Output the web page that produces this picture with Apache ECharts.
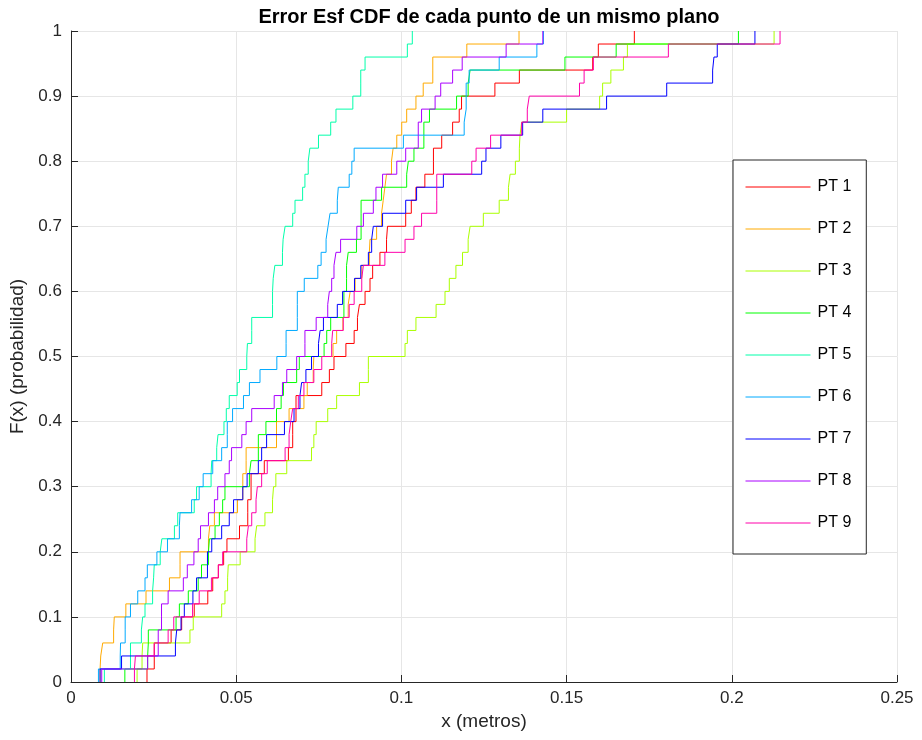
<!DOCTYPE html>
<html>
<head>
<meta charset="utf-8">
<script src="https://cdn.jsdelivr.net/npm/echarts@6/dist/echarts.min.js"></script>
<style>html,body{margin:0;padding:0;background:#fff}#c{width:922px;height:740px}</style>
</head>
<body>
<div id="c"></div>
<script>
var titleText = 'Error Esf CDF de cada punto de un mismo plano';
var xName = 'x (metros)';
var yName = 'F(x) (probabilidad)';
var names = ['PT 1','PT 2','PT 3','PT 4','PT 5','PT 6','PT 7','PT 8','PT 9'];
var colors = ['#FF0000','#FFAA00','#AAFF00','#00FF00','#00FFAA','#00AAFF','#0000FF','#AA00FF','#FF00AA'];
var stepSize = 0.02;

var pt1 = [0.0230,0.0252,0.0252,0.0303,0.0335,0.0373,0.0414,0.0429,0.0446,0.0462,0.0472,0.0510,0.0535,0.0535,0.0545,0.0545,0.0585,0.0658,0.0671,0.0671,0.0681,0.0681,0.0759,0.0782,0.0796,0.0832,0.0857,0.0867,0.0873,0.0890,0.0905,0.0913,0.0935,0.0955,0.0958,0.1013,0.1030,0.1044,0.1071,0.1097,0.1097,0.1122,0.1155,0.1175,0.1182,0.1283,0.1357,0.1579,0.1596,0.1705];
var pt2 = [0.0088,0.0090,0.0096,0.0129,0.0131,0.0166,0.0227,0.0298,0.0330,0.0330,0.0416,0.0420,0.0434,0.0504,0.0520,0.0520,0.0530,0.0530,0.0622,0.0622,0.0660,0.0705,0.0715,0.0733,0.0735,0.0793,0.0804,0.0823,0.0839,0.0845,0.0860,0.0880,0.0903,0.0905,0.0925,0.0940,0.0945,0.0950,0.0955,0.0970,0.0975,0.0986,0.1001,0.1016,0.1044,0.1066,0.1095,0.1095,0.1198,0.1356];
var pt3 = [0.0200,0.0215,0.0217,0.0360,0.0370,0.0456,0.0466,0.0474,0.0476,0.0512,0.0557,0.0562,0.0587,0.0610,0.0613,0.0620,0.0653,0.0728,0.0735,0.0742,0.0777,0.0804,0.0873,0.0900,0.0900,0.1011,0.1018,0.1044,0.1105,0.1132,0.1145,0.1165,0.1185,0.1202,0.1208,0.1248,0.1296,0.1324,0.1329,0.1345,0.1357,0.1359,0.1364,0.1500,0.1600,0.1609,0.1634,0.1672,0.1684,0.2128];
var pt4 = [0.0163,0.0232,0.0234,0.0234,0.0318,0.0328,0.0355,0.0385,0.0395,0.0416,0.0419,0.0436,0.0449,0.0459,0.0466,0.0540,0.0545,0.0567,0.0567,0.0590,0.0622,0.0636,0.0643,0.0683,0.0691,0.0766,0.0774,0.0786,0.0826,0.0826,0.0834,0.0834,0.0839,0.0864,0.0878,0.0878,0.0878,0.0940,0.1016,0.1021,0.1038,0.1068,0.1068,0.1085,0.1167,0.1202,0.1208,0.1495,0.1650,0.2020];
var pt5 = [0.0101,0.0180,0.0180,0.0213,0.0217,0.0224,0.0247,0.0250,0.0252,0.0270,0.0275,0.0313,0.0323,0.0373,0.0380,0.0424,0.0426,0.0441,0.0445,0.0463,0.0470,0.0479,0.0503,0.0510,0.0532,0.0534,0.0547,0.0547,0.0610,0.0610,0.0612,0.0617,0.0640,0.0642,0.0648,0.0671,0.0678,0.0701,0.0708,0.0718,0.0723,0.0749,0.0786,0.0802,0.0853,0.0877,0.0877,0.0890,0.1018,0.1033];
var pt6 = [0.0083,0.0149,0.0150,0.0164,0.0164,0.0180,0.0202,0.0224,0.0231,0.0260,0.0292,0.0328,0.0330,0.0365,0.0388,0.0400,0.0429,0.0456,0.0473,0.0473,0.0489,0.0522,0.0540,0.0572,0.0623,0.0651,0.0651,0.0685,0.0685,0.0685,0.0706,0.0747,0.0757,0.0772,0.0778,0.0784,0.0806,0.0809,0.0842,0.0850,0.0857,0.1006,0.1190,0.1196,0.1196,0.1196,0.1205,0.1296,0.1410,0.1430];
var pt7 = [0.0088,0.0153,0.0316,0.0320,0.0333,0.0343,0.0369,0.0380,0.0413,0.0413,0.0426,0.0456,0.0479,0.0492,0.0520,0.0533,0.0567,0.0577,0.0592,0.0646,0.0675,0.0693,0.0698,0.0711,0.0728,0.0749,0.0754,0.0764,0.0806,0.0822,0.0858,0.0877,0.0900,0.0910,0.0915,0.0943,0.1013,0.1046,0.1127,0.1243,0.1256,0.1301,0.1367,0.1428,0.1621,0.1803,0.1942,0.1946,0.1956,0.2070];
var pt8 = [0.0093,0.0232,0.0264,0.0264,0.0274,0.0274,0.0294,0.0340,0.0352,0.0372,0.0385,0.0392,0.0416,0.0434,0.0444,0.0466,0.0479,0.0486,0.0517,0.0530,0.0547,0.0615,0.0640,0.0653,0.0683,0.0708,0.0708,0.0742,0.0777,0.0782,0.0789,0.0796,0.0802,0.0816,0.0865,0.0885,0.0915,0.0923,0.0943,0.0986,0.1013,0.1051,0.1051,0.1061,0.1102,0.1119,0.1155,0.1184,0.1317,0.1428];
var pt9 = [0.0192,0.0195,0.0252,0.0294,0.0311,0.0368,0.0388,0.0425,0.0446,0.0459,0.0532,0.0537,0.0547,0.0560,0.0564,0.0577,0.0594,0.0648,0.0660,0.0665,0.0671,0.0688,0.0705,0.0735,0.0759,0.0789,0.0792,0.0824,0.0842,0.0857,0.0880,0.0885,0.0950,0.1011,0.1038,0.1061,0.1107,0.1107,0.1107,0.1213,0.1226,0.1270,0.1364,0.1381,0.1387,0.1539,0.1553,0.1581,0.1808,0.2146];

var allSeries = [pt1,pt2,pt3,pt4,pt5,pt6,pt7,pt8,pt9];

function cdfPoints(xs){
  var pts = [];
  for (var i = 0; i < xs.length; i++){
    var y0 = Math.round(i*stepSize*1000)/1000;
    var y1 = Math.round((i+1)*stepSize*1000)/1000;
    pts.push([xs[i], y0]);
    pts.push([xs[i], y1]);
  }
  return pts;
}

var FONT = 'Liberation Sans, Arial, Helvetica, sans-serif';
var chart = echarts.init(document.getElementById('c'), null, {renderer:'canvas'});
var series = allSeries.map(function(xs, k){
  return {
    name: names[k], type: 'line', data: cdfPoints(xs),
    symbol: 'none', showSymbol: false, animation: false,
    lineStyle: {color: colors[k], width: 1},
    itemStyle: {color: colors[k]},
    z: 2 + k
  };
});

chart.setOption({
  backgroundColor: '#ffffff',
  animation: false,
  title: {
    text: titleText, left: 484, top: 2, textAlign: 'center',
    textStyle: {fontFamily: FONT, fontSize: 20, fontWeight: 'bold', color: '#000'}
  },
  grid: {left: 71, right: 25, top: 31, bottom: 58, containLabel: false},
  xAxis: {
    type: 'value', min: 0, max: 0.25, interval: 0.05,
    name: xName, nameLocation: 'middle', nameGap: 28,
    nameTextStyle: {fontFamily: FONT, fontSize: 19, color: '#262626'},
    axisLine: {show: true, onZero: false, lineStyle: {color: '#262626', width: 1}},
    axisTick: {show: true, inside: true, length: 7, lineStyle: {color: '#262626'}},
    axisLabel: {fontFamily: FONT, fontSize: 17, color: '#262626', margin: 8,
      formatter: function(v){ return String(+v.toFixed(2)); }},
    splitLine: {show: true, lineStyle: {color: '#e6e6e6', width: 1}}
  },
  yAxis: {
    type: 'value', min: 0, max: 1, interval: 0.1,
    name: yName, nameLocation: 'middle', nameGap: 40, nameRotate: 90,
    nameTextStyle: {fontFamily: FONT, fontSize: 19, color: '#262626'},
    axisLine: {show: true, onZero: false, lineStyle: {color: '#262626', width: 1}},
    axisTick: {show: true, inside: true, length: 7, lineStyle: {color: '#262626'}},
    axisLabel: {fontFamily: FONT, fontSize: 17, color: '#262626', margin: 9,
      formatter: function(v){ return String(+v.toFixed(1)); }},
    splitLine: {show: true, lineStyle: {color: '#e6e6e6', width: 1}}
  },
  legend: {
    data: names, orient: 'vertical', left: 733, top: 160,
    backgroundColor: '#ffffff', borderColor: '#262626', borderWidth: 1, borderRadius: 0,
    padding: [19, 15, 23, 12], itemWidth: 65, itemHeight: 16, itemGap: 26,
    itemStyle: {opacity: 0},
    lineStyle: {width: 1},
    textStyle: {fontFamily: FONT, fontSize: 16, lineHeight: 16, color: '#000', padding: [0,0,0,2]},
    selectedMode: false
  },
  series: series
});
</script>
</body>
</html>
